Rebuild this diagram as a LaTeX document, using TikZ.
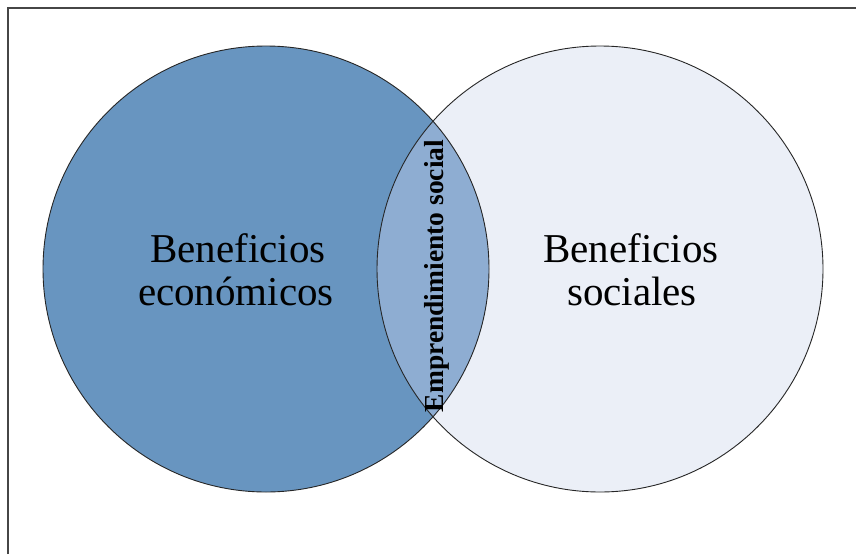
\documentclass[tikz,border=0pt]{standalone}
\usepackage{fontspec}
\setmainfont{Liberation Serif}
\definecolor{econ}{RGB}{104,149,192}
\definecolor{soc}{RGB}{235,239,247}
\definecolor{lens}{RGB}{142,173,210}
\definecolor{framec}{RGB}{70,70,70}
\begin{document}
\begin{tikzpicture}[x=1pt,y=-1pt,
  bigtext/.style={font=\fontsize{41}{44}\selectfont, inner sep=0pt, anchor=base},
  lenstext/.style={font=\fontsize{27.5}{29}\selectfont\bfseries, inner sep=0pt, anchor=base, rotate=90},
  circ/.style={draw=black!85, line width=0.9pt}]
\useasboundingbox (0,0) rectangle (856,554);
\fill[white] (0,0) rectangle (856,554);
\draw[framec, line width=1.6pt] (8,554) -- (8,8) -- (856,8);
\coordinate (L) at (266,269);
\coordinate (R) at (600,269);
\fill[soc] (R) circle (223);
\fill[econ] (L) circle (223);
\begin{scope}
  \clip (L) circle (223);
  \fill[lens] (R) circle (223);
\end{scope}
\draw[circ] (L) circle (223);
\draw[circ] (R) circle (223);
\node[bigtext] (e1) at (238,262) {Beneficios};
\node[bigtext] (e2) at (236,305) {económicos};
\node[bigtext] (s1) at (631,262) {Beneficios};
\node[bigtext] (s2) at (632,305) {sociales};
\node[lenstext] (es) at (443,276) {Emprendimiento social};
\end{tikzpicture}
\end{document}
